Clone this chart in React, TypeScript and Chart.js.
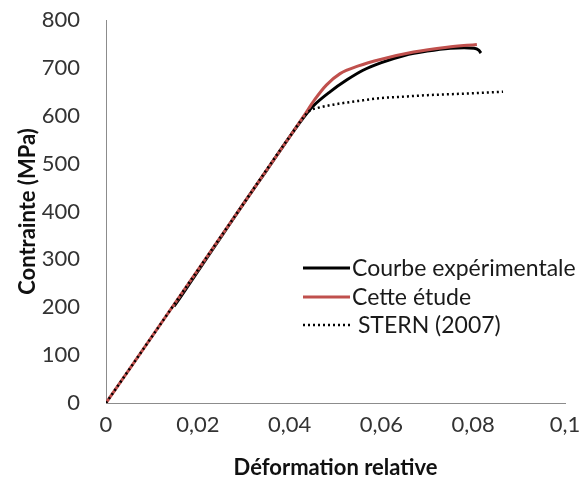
import React, { useEffect, useRef } from "react";
import { Chart, registerables } from "chart.js";

Chart.register(...registerables);

// Courbe expérimentale
const expX = [0.0148, 0.016, 0.02, 0.025, 0.03, 0.035, 0.04, 0.0435, 0.0451, 0.0488, 0.0525, 0.056, 0.06, 0.065, 0.07, 0.075, 0.078, 0.0802, 0.0812, 0.0817];
const expY = [202, 218, 275, 346, 417, 486, 556, 602, 620, 650, 675, 695, 711, 726, 735, 741, 742, 741, 737, 731];

// Cette étude
const studyX = [0, 0.015, 0.03, 0.04, 0.043, 0.0455, 0.048, 0.051, 0.055, 0.06, 0.067, 0.0743, 0.0808];
const studyY = [0, 208, 417, 556, 598, 634, 664, 688, 704, 718, 733, 743, 749];

// STERN (2007)
const sternX = [0, 0.015, 0.03, 0.04, 0.0443, 0.046, 0.05, 0.055, 0.06, 0.065, 0.07, 0.075, 0.08, 0.0865];
const sternY = [0, 208, 417, 556, 610, 616, 624, 631, 637, 640, 643, 645, 647, 650];

const legendLabels = ["Courbe expérimentale", "Cette étude", "STERN (2007)"];
const xTitle = "Déformation relative";
const yTitle = "Contrainte (MPa)";

const FONT = "Lato, 'Open Sans', sans-serif";

const toPts = (xs: number[], ys: number[]) => xs.map((x, i) => ({ x, y: ys[i] }));

const legendPlugin = {
  id: "customLegend",
  afterDraw(chart: any) {
    const { ctx, chartArea } = chart;
    const styles = [
      { color: "#000000", width: 3, dash: [] as number[] },
      { color: "#C0504D", width: 3, dash: [] as number[] },
      { color: "#000000", width: 2.5, dash: [2, 3] },
    ];
    const x0 = chartArea.left + 197;
    const x1 = chartArea.left + 244;
    const textX = chartArea.left + 246;
    const rows = [chartArea.top + 248, chartArea.top + 277, chartArea.top + 305];
    ctx.save();
    legendLabels.forEach((label, i) => {
      const s = styles[i];
      ctx.beginPath();
      ctx.setLineDash(s.dash);
      ctx.strokeStyle = s.color;
      ctx.lineWidth = s.width;
      ctx.moveTo(x0, rows[i]);
      ctx.lineTo(x1, rows[i]);
      ctx.stroke();
      ctx.setLineDash([]);
      ctx.fillStyle = "#1a1a1a";
      ctx.font = `23px ${FONT}`;
      ctx.textBaseline = "middle";
      ctx.textAlign = "left";
      ctx.fillText(i === 2 ? " " + label : label, textX, rows[i] + 1);
    });
    ctx.restore();
  },
};

export default function App() {
  const canvasRef = useRef<HTMLCanvasElement | null>(null);

  useEffect(() => {
    if (!canvasRef.current) return;
    const chart = new Chart(canvasRef.current, {
      type: "scatter",
      data: {
        datasets: [
          {
            label: legendLabels[2],
            data: toPts(sternX, sternY),
            showLine: true,
            borderColor: "#000000",
            borderWidth: 2.5,
            borderDash: [2, 3],
            pointRadius: 0,
            cubicInterpolationMode: "monotone",
            order: 0,
          },
          {
            label: legendLabels[1],
            data: toPts(studyX, studyY),
            showLine: true,
            borderColor: "#C0504D",
            borderWidth: 3,
            pointRadius: 0,
            cubicInterpolationMode: "monotone",
            order: 1,
          },
          {
            label: legendLabels[0],
            data: toPts(expX, expY),
            showLine: true,
            borderColor: "#000000",
            borderWidth: 3,
            pointRadius: 0,
            cubicInterpolationMode: "monotone",
            order: 2,
          },
        ],
      },
      options: {
        animation: false,
        responsive: false,
        layout: { padding: { top: 20, right: 17, left: 0, bottom: 0 } },
        plugins: {
          legend: { display: false },
          tooltip: { enabled: false },
        },
        scales: {
          x: {
            type: "linear",
            min: 0,
            max: 0.1,
            afterFit: (scale: any) => {
              scale.height = 78;
              scale.paddingLeft = 0;
              scale.paddingRight = 0;
            },
            grid: { display: false, drawTicks: false, tickLength: 0 },
            border: { display: true, color: "#8c8c8c", width: 1 },
            ticks: {
              stepSize: 0.02,
              padding: 9,
              color: "#333333",
              font: { family: FONT, size: 22 },
              callback: (v: any) => String(Number(Number(v).toFixed(2))).replace(".", ","),
            },
            title: {
              display: true,
              text: xTitle,
              color: "#111111",
              font: { family: FONT, size: 22, weight: "bold" },
              padding: { top: 0, bottom: 0 },
            },
          },
          y: {
            type: "linear",
            min: 0,
            max: 800,
            afterFit: (scale: any) => {
              scale.width = 106;
              scale.paddingTop = 0;
              scale.paddingBottom = 0;
            },
            grid: { display: false, drawTicks: false, tickLength: 0 },
            border: { display: true, color: "#8c8c8c", width: 1 },
            ticks: {
              stepSize: 100,
              padding: 26,
              color: "#333333",
              font: { family: FONT, size: 22 },
            },
            title: {
              display: true,
              text: yTitle,
              color: "#111111",
              font: { family: FONT, size: 22, weight: "bold" },
              padding: { top: 15, bottom: 0 },
            },
          },
        },
      },
      plugins: [legendPlugin],
    });
    return () => chart.destroy();
  }, []);

  return (
    <div style={{ position: "absolute", left: 0, top: 0, width: 582, height: 481, background: "#ffffff" }}>
      <canvas ref={canvasRef} width={582} height={481} />
    </div>
  );
}
